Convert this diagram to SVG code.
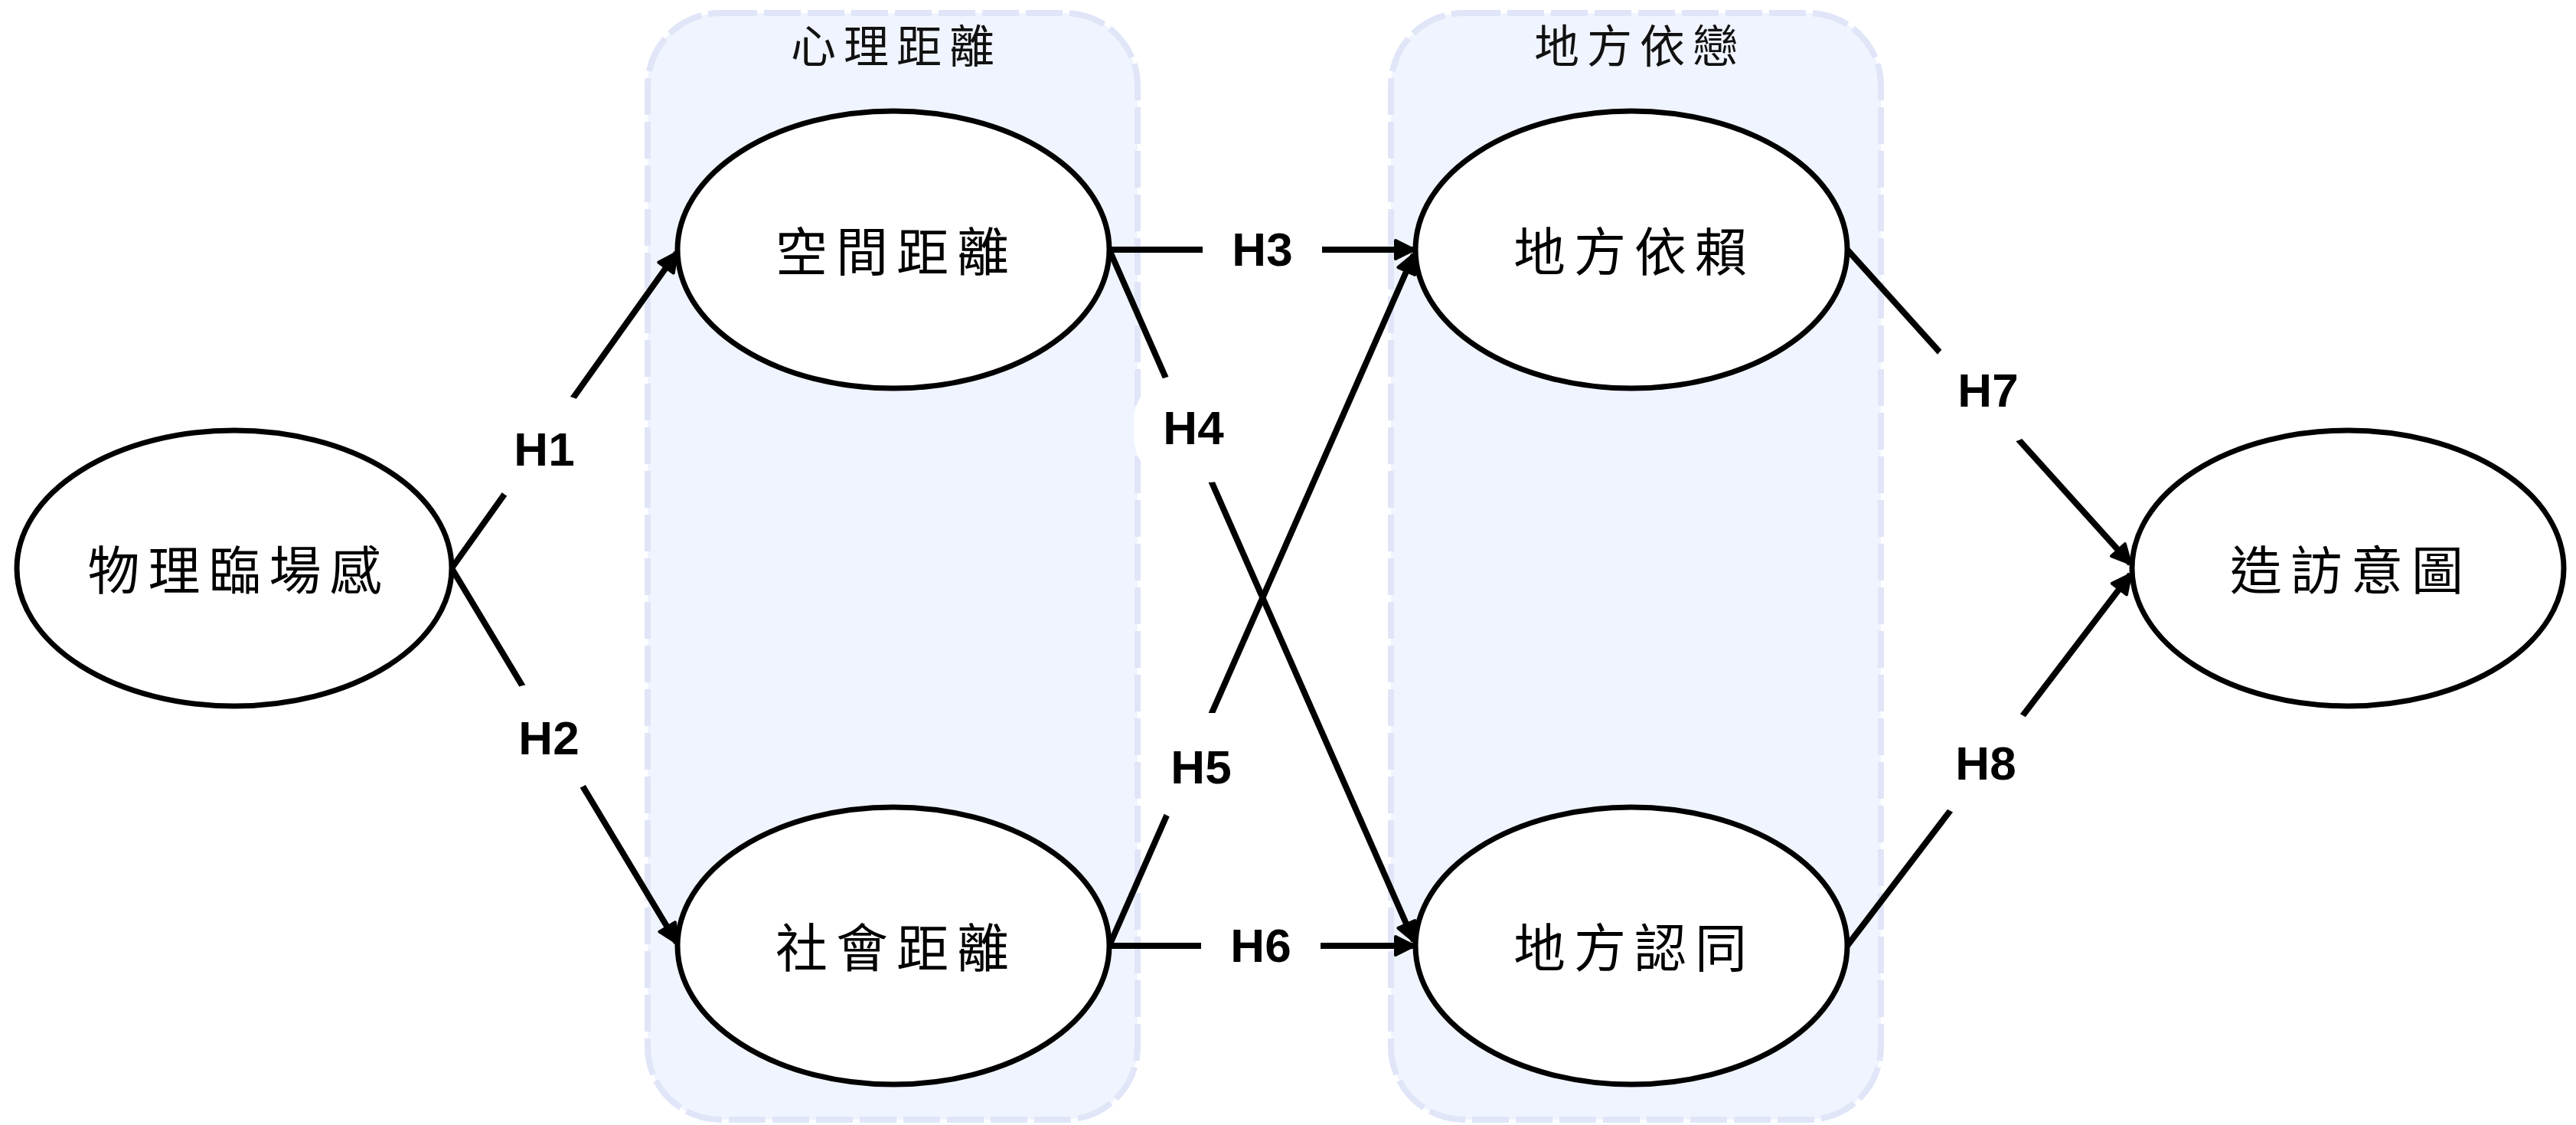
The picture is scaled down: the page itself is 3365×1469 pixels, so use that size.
<svg xmlns="http://www.w3.org/2000/svg" width="3365" height="1469" viewBox="0 0 3365 1469">
<style>
.cluster{fill:#eff4fe;stroke:#e0e5f8;stroke-width:8;stroke-dasharray:48 9}
.clabel{font-family:"Noto Sans CJK TC","Noto Sans CJK SC",sans-serif;font-size:59px;letter-spacing:10px;fill:#111;text-anchor:middle;dominant-baseline:central}
.node ellipse{fill:#fff;stroke:#000;stroke-width:7}
.node text{font-family:"Noto Sans CJK TC","Noto Sans CJK SC",sans-serif;font-size:68px;letter-spacing:11px;fill:#000;text-anchor:middle;dominant-baseline:central}
.edge{stroke:#000;stroke-width:8;fill:none;marker-end:url(#arr)}
.lbg{fill:#fff}
.lbl{font-family:"Liberation Sans",Arial,sans-serif;font-weight:bold;font-size:62px;fill:#000;text-anchor:middle}
</style>
<defs>
<marker id="arr" markerUnits="userSpaceOnUse" viewBox="0 0 30 30" markerWidth="30" markerHeight="30" refX="27" refY="15" orient="auto">
<path d="M3,3 L27,15 L3,27 z" fill="#000" stroke="#000" stroke-width="4" stroke-linejoin="round"/>
</marker>
</defs>
<rect width="3365" height="1469" fill="#fff"/>
<g id="cluster-psych">
<rect class="cluster" x="846" y="17" width="640" height="1445" rx="95" ry="95"/>
<text class="clabel" x="1171" y="56">心理距離</text>
</g>
<g id="cluster-attach">
<rect class="cluster" x="1817" y="17" width="640" height="1445" rx="95" ry="95"/>
<text class="clabel" x="2142" y="56">地方依戀</text>
</g>
<g id="edges">
<line class="edge" x1="590" y1="742" x2="884" y2="330"/>
<line class="edge" x1="590" y1="742" x2="884" y2="1231"/>
<line class="edge" x1="1449" y1="326" x2="1847" y2="326"/>
<line class="edge" x1="1449" y1="326" x2="1847" y2="1229"/>
<line class="edge" x1="1449" y1="1235" x2="1847" y2="332"/>
<line class="edge" x1="1449" y1="1235" x2="1847" y2="1235"/>
<line class="edge" x1="2413" y1="326" x2="2783" y2="736"/>
<line class="edge" x1="2413" y1="1235" x2="2783" y2="750"/>
</g>
<g id="node-presence" class="node">
<ellipse cx="306" cy="742" rx="284" ry="180"/>
<text x="312" y="740">物理臨場感</text>
</g>
<g id="node-spatial" class="node">
<ellipse cx="1167" cy="326" rx="282" ry="181"/>
<text x="1171" y="324">空間距離</text>
</g>
<g id="node-social" class="node">
<ellipse cx="1167" cy="1235" rx="282" ry="181"/>
<text x="1171" y="1233">社會距離</text>
</g>
<g id="node-dependence" class="node">
<ellipse cx="2131" cy="326" rx="282" ry="181"/>
<text x="2135" y="324">地方依賴</text>
</g>
<g id="node-identity" class="node">
<ellipse cx="2131" cy="1235" rx="282" ry="181"/>
<text x="2135" y="1233">地方認同</text>
</g>
<g id="node-intention" class="node">
<ellipse cx="3067" cy="742" rx="282" ry="180"/>
<text x="3071" y="740">造訪意圖</text>
</g>
<g id="edge-labels">
<rect class="lbg" x="633" y="516" width="156" height="140" rx="60"/>
<text class="lbl" x="711" y="608">H1</text>
<rect class="lbg" x="639" y="893" width="156" height="140" rx="60"/>
<text class="lbl" x="717" y="985">H2</text>
<rect class="lbg" x="1571" y="255" width="156" height="140" rx="60"/>
<text class="lbl" x="1649" y="347">H3</text>
<rect class="lbg" x="1481" y="490" width="156" height="140" rx="60"/>
<text class="lbl" x="1559" y="580">H4</text>
<rect class="lbg" x="1491" y="931" width="156" height="140" rx="60"/>
<text class="lbl" x="1569" y="1023">H5</text>
<rect class="lbg" x="1569" y="1164" width="156" height="140" rx="60"/>
<text class="lbl" x="1647" y="1256">H6</text>
<rect class="lbg" x="2519" y="439" width="156" height="140" rx="60"/>
<text class="lbl" x="2597" y="531">H7</text>
<rect class="lbg" x="2516" y="926" width="156" height="140" rx="60"/>
<text class="lbl" x="2594" y="1018">H8</text>
</g>
</svg>
